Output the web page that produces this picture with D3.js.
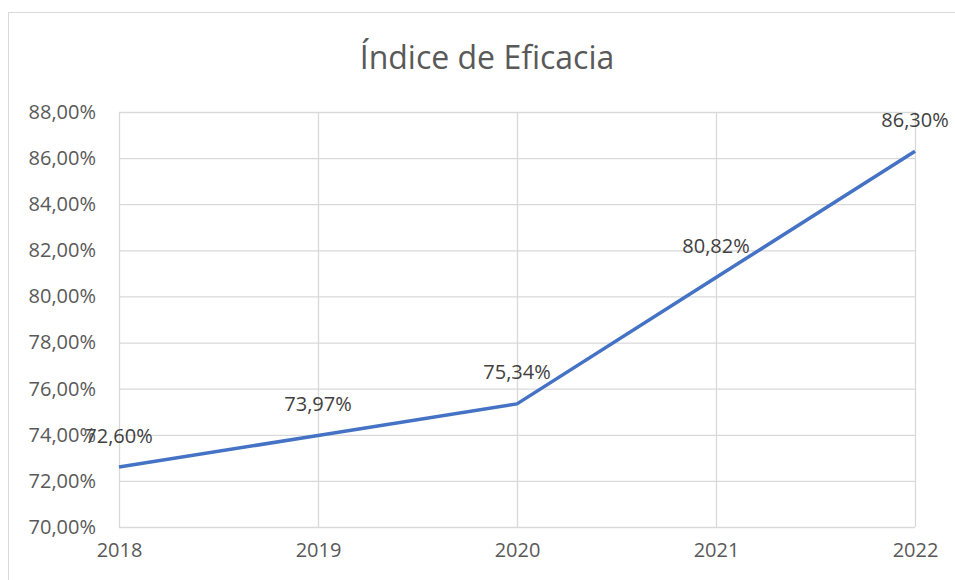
<!DOCTYPE html>
<html>
<head>
<meta charset="utf-8">
<script src="https://cdn.jsdelivr.net/npm/d3@7"></script>
<style>
  body { margin: 0; background: #fff; }
  svg { display: block; font-family: "Open Sans", sans-serif; }
</style>
</head>
<body>
<div id="chart"></div>
<script>
const width = 955;
const height = 580;
const margin = { left: 119, right: 40, top: 112, bottom: 53 };

const title = 'Índice de Eficacia';
const years = ['2018', '2019', '2020', '2021', '2022'];
const values = [72.60, 73.97, 75.34, 80.82, 86.30];
const y_ticks = [70, 72, 74, 76, 78, 80, 82, 84, 86, 88];

const fmt = v => v.toFixed(2).replace('.', ',') + '%';

const svg = d3.select('#chart')
  .append('svg')
    .attr('width', width)
    .attr('height', height);

// chart frame (cropped on right and bottom like the reference)
svg.append('rect')
  .attr('x', 8.5)
  .attr('y', 12.5)
  .attr('width', 1000)
  .attr('height', 1000)
  .attr('fill', 'none')
  .attr('stroke', '#d9d9d9');

const g = svg.append('g')
  .attr('transform', 'translate(' + margin.left + ',' + margin.top + ')');

const w = width - margin.left - margin.right;
const h = height - margin.top - margin.bottom;

const x_scale = d3.scalePoint()
  .domain(years)
  .range([0, w]);
const y_scale = d3.scaleLinear()
  .domain([70, 88])
  .range([h, 0]);

// horizontal gridlines + y labels
const y_axis = g.append('g')
  .call(d3.axisLeft(y_scale).tickValues(y_ticks).tickSize(-w).tickFormat(fmt));
y_axis.select('.domain').remove();
y_axis.selectAll('.tick line').attr('stroke', '#d9d9d9').attr('stroke-width', 1.3);
y_axis.selectAll('.tick text')
  .attr('x', -23)
  .attr('fill', '#595959')
  .style('font-size', '20px')
  .style('font-family', '"Open Sans", sans-serif');

// vertical gridlines + x labels
const x_axis = g.append('g')
  .attr('transform', 'translate(0,' + h + ')')
  .call(d3.axisBottom(x_scale).tickSize(-h));
x_axis.select('.domain').remove();
x_axis.selectAll('.tick line').attr('stroke', '#d9d9d9').attr('stroke-width', 1.3);
x_axis.selectAll('.tick text')
  .attr('y', 16)
  .attr('fill', '#595959')
  .style('font-size', '20px')
  .style('font-family', '"Open Sans", sans-serif');

const points = years.map((y, i) => ({ year: y, value: values[i] }));

g.append('path')
  .datum(points)
  .attr('fill', 'none')
  .attr('stroke', '#4472c4')
  .attr('stroke-width', 3.5)
  .attr('stroke-linejoin', 'round')
  .attr('d', d3.line().x(d => x_scale(d.year)).y(d => y_scale(d.value)));

g.selectAll('.lbl')
    .data(points)
  .join('text')
    .attr('class', 'lbl')
    .attr('x', d => x_scale(d.year))
    .attr('y', d => y_scale(d.value) - 32)
    .attr('text-anchor', 'middle')
    .attr('dominant-baseline', 'central')
    .attr('fill', '#404040')
    .style('font-size', '20px')
    .text(d => fmt(d.value));

svg.append('text')
  .attr('x', 487)
  .attr('y', 56)
  .attr('text-anchor', 'middle')
  .attr('dominant-baseline', 'central')
  .attr('fill', '#595959')
  .style('font-size', '32px')
  .text(title);
</script>
</body>
</html>
